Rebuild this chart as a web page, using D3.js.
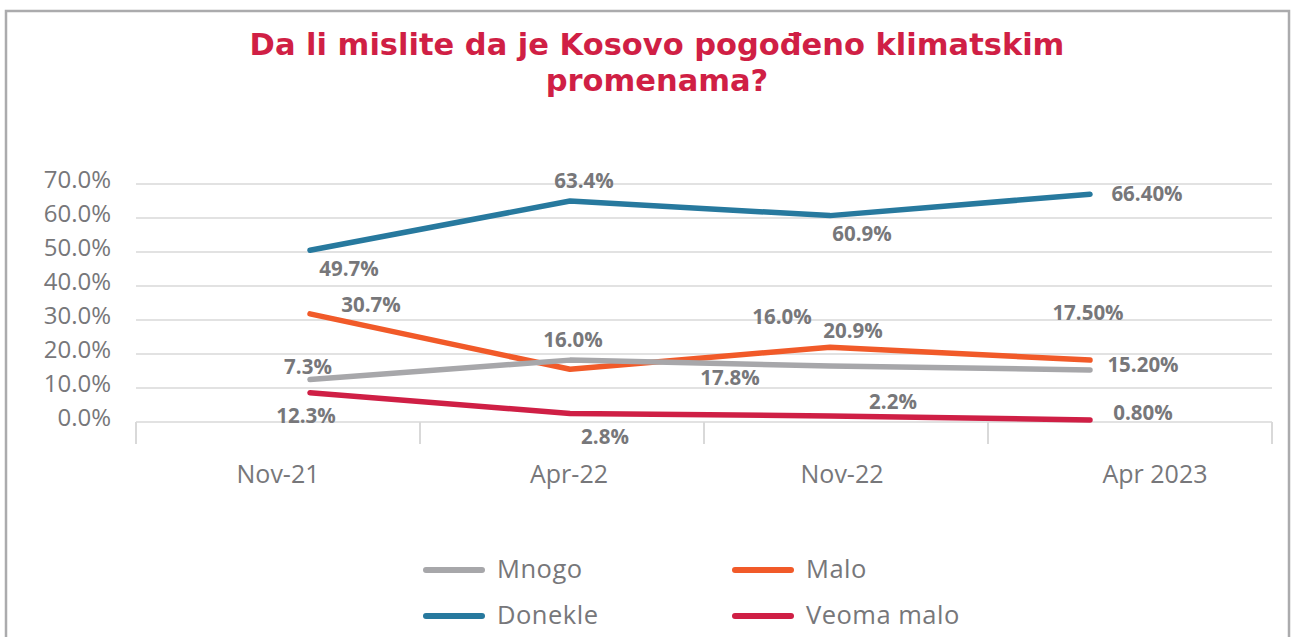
<!DOCTYPE html>
<html>
<head>
<meta charset="utf-8">
<script src="https://cdn.jsdelivr.net/npm/d3@7"></script>
<style>
  body { margin: 0; background: #fff; }
  svg { display: block; font-family: "Open Sans", sans-serif; }
</style>
</head>
<body>
<div id="chart"></div>
<script>
// data
var categories = ["Nov-21", "Apr-22", "Nov-22", "Apr 2023"];
var mnogo = [12.5, 18.2, 16.5, 15.3];
var malo = [31.8, 15.5, 22.0, 18.2];
var donekle = [50.5, 65.0, 60.7, 67.0];
var veomaMalo = [8.6, 2.5, 1.8, 0.6];
var mnogoLabels = ["7.3%", "17.8%", "16.0%", "15.20%"];
var maloLabels = ["30.7%", "16.0%", "20.9%", "17.50%"];
var donekleLabels = ["49.7%", "63.4%", "60.9%", "66.40%"];
var veomaMaloLabels = ["12.3%", "2.8%", "2.2%", "0.80%"];
var yTicks = [0, 10, 20, 30, 40, 50, 60, 70];

var width = 1292;
var height = 637;

var svg = d3.select("#chart")
  .append("svg")
  .attr("width", width)
  .attr("height", height);

// frame
svg.append("rect")
  .attr("x", 6)
  .attr("y", 11)
  .attr("width", 1283)
  .attr("height", 700)
  .attr("fill", "none")
  .attr("stroke", "#ababad")
  .attr("stroke-width", 2.5);

// title
var title = svg.append("text")
  .attr("text-anchor", "middle")
  .attr("fill", "#d01f45")
  .style("font-family", "DejaVu Sans, sans-serif")
  .style("font-size", "30.5px")
  .style("font-weight", "bold");
title.append("tspan").attr("x", 657).attr("y", 55).text("Da li mislite da je Kosovo pogođeno klimatskim");
title.append("tspan").attr("x", 657).attr("y", 91).text("promenama?");

var yScale = d3.scaleLinear().domain([0, 70]).range([422, 184]);
var xBand = d3.scaleBand().domain(categories).range([136, 1272]);
var xPt = d3.scalePoint().domain(categories).range([310, 1090]);

// gridlines
svg.append("g")
  .selectAll("line")
  .data(yTicks)
  .enter()
  .append("line")
  .attr("x1", 136)
  .attr("x2", 1272)
  .attr("y1", function(d) { return yScale(d); })
  .attr("y2", function(d) { return yScale(d); })
  .attr("stroke", "#d9d9d9")
  .attr("stroke-width", 1.5);

// y tick labels
svg.append("g")
  .selectAll("text")
  .data(yTicks)
  .enter()
  .append("text")
  .attr("x", 111)
  .attr("y", function(d) { return yScale(d) - 6; })
  .attr("dominant-baseline", "central")
  .attr("text-anchor", "end")
  .style("font-size", "24px")
  .attr("fill", "#77777a")
  .text(function(d) { return d.toFixed(1) + "%"; });

// x axis
var catNudge = [0, 7, -4, 25];
var xAxis = d3.axisBottom(xBand).tickSize(0).tickPadding(0);
var gx = svg.append("g")
  .attr("transform", "translate(0,422)")
  .call(xAxis);
gx.select(".domain").remove();
gx.selectAll("text")
  .attr("y", 51)
  .attr("dy", 0)
  .attr("dx", function(d, i) { return catNudge[i]; })
  .attr("dominant-baseline", "central")
  .style("font-size", "25px")
  .style("font-family", "Open Sans, sans-serif")
  .attr("fill", "#77777a");

var bounds = categories.map(function(c) { return xBand(c); }).concat([1272]);
svg.append("g")
  .selectAll("line")
  .data(bounds)
  .enter()
  .append("line")
  .attr("x1", function(d) { return d; })
  .attr("x2", function(d) { return d; })
  .attr("y1", 422)
  .attr("y2", 444)
  .attr("stroke", "#d9d9d9")
  .attr("stroke-width", 2);

// series
var series = [
  { name: "Mnogo", values: mnogo, labels: mnogoLabels, color: "#a7a7aa",
    off: [[-2, -14], [160, 17], [-48, -50], [53, -6]] },
  { name: "Malo", values: malo, labels: maloLabels, color: "#f15a29",
    off: [[61, -10], [3, -30], [23, -17], [-2, -48]] },
  { name: "Donekle", values: donekle, labels: donekleLabels, color: "#27799e",
    off: [[39, 18], [14, -21], [32, 17], [57, -1]] },
  { name: "Veoma malo", values: veomaMalo, labels: veomaMaloLabels, color: "#cf1f45",
    off: [[-4, 22], [35, 22], [63, -15], [53, -8]] }
];

var line = d3.line()
  .x(function(d, i) { return xPt(categories[i]); })
  .y(function(d) { return yScale(d); });

var drawOrder = [2, 1, 0, 3];
drawOrder.forEach(function(k) {
  var s = series[k];
  svg.append("path")
    .attr("d", line(s.values))
    .attr("fill", "none")
    .attr("stroke", s.color)
    .attr("stroke-width", 5.5)
    .attr("stroke-linecap", "round")
    .attr("stroke-linejoin", "round");
});

series.forEach(function(s) {
  svg.append("g")
    .selectAll("text")
    .data(s.values)
    .enter()
    .append("text")
    .attr("x", function(d, i) { return xPt(categories[i]) + s.off[i][0]; })
    .attr("y", function(d, i) { return yScale(d) + s.off[i][1]; })
    .attr("text-anchor", "middle")
    .attr("dominant-baseline", "central")
    .style("font-size", "20.5px")
    .style("font-weight", "bold")
    .attr("fill", "#77777a")
    .text(function(d, i) { return s.labels[i]; });
});

// legend
var legendPos = [[426, 570], [735, 570], [426, 616], [735, 616]];
var legend = svg.append("g")
  .selectAll("g")
  .data(series)
  .enter()
  .append("g")
  .attr("transform", function(d, i) {
    return "translate(" + legendPos[i][0] + "," + legendPos[i][1] + ")";
  });
legend.append("line")
  .attr("x1", 0)
  .attr("x2", 56)
  .attr("stroke", function(d) { return d.color; })
  .attr("stroke-width", 6)
  .attr("stroke-linecap", "round");
legend.append("text")
  .attr("x", 71)
  .attr("y", -2)
  .attr("dominant-baseline", "central")
  .style("font-size", "25.5px")
  .style("letter-spacing", "0.5px")
  .attr("fill", "#77777a")
  .text(function(d) { return d.name; });
</script>
</body>
</html>
